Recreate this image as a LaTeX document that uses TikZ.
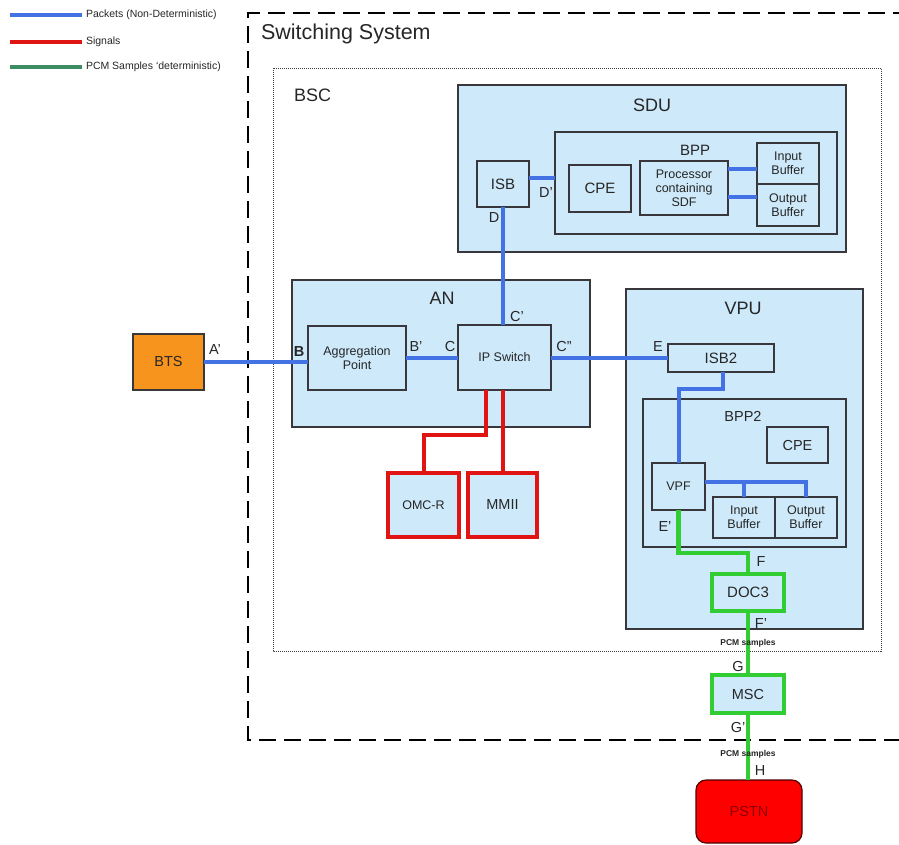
\documentclass[tikz,border=0pt]{standalone}
\usepackage{fontspec}
\setmainfont{Liberation Sans}
\definecolor{lb}{RGB}{205,233,250}
\definecolor{boxline}{RGB}{55,55,60}
\definecolor{pblue}{RGB}{66,114,228}
\definecolor{sred}{RGB}{225,20,20}
\definecolor{pgreen}{RGB}{50,205,50}
\definecolor{lgreen}{RGB}{60,140,100}
\definecolor{btsor}{RGB}{247,148,30}
\definecolor{pstnred}{RGB}{255,0,0}
\begin{document}
\begin{tikzpicture}[x=1pt,y=-1pt,
  every node/.style={inner sep=0pt, outer sep=0pt, text=black!85},
  box/.style={draw=boxline, line width=1.1pt, fill=lb},
  redbox/.style={draw=sred, line width=3.5pt, fill=lb},
  greenbox/.style={draw=pgreen, line width=3.5pt, fill=lb},
  bline/.style={draw=pblue, line width=4pt},
  rline/.style={draw=sred, line width=4pt},
  gline/.style={draw=pgreen, line width=4.5pt},
  fT/.style={font=\fontsize{21.5}{23}\selectfont},
  fL/.style={font=\fontsize{18}{20}\selectfont},
  fM/.style={font=\fontsize{15}{17}\selectfont},
  fP/.style={font=\fontsize{14.5}{16}\selectfont},
  fS/.style={font=\fontsize{12.5}{14}\selectfont, align=center},
  fX/.style={font=\fontsize{8.5}{9}\selectfont\bfseries},
  fLeg/.style={font=\fontsize{10.5}{12}\selectfont, anchor=west},
]
\useasboundingbox (0,0) rectangle (899,844);
\clip (0,0) rectangle (899,844);

% legend
\draw[line width=4pt, pblue] (10,15) -- (82,15);
\draw[line width=4pt, sred] (10,42) -- (82,42);
\draw[line width=4pt, lgreen] (10,67) -- (82,67);
\node[fLeg] (legA) at (86,15) {Packets (Non-Deterministic)};
\node[fLeg] (legB) at (86,42) {Signals};
\node[fLeg] (legC) at (86,67) {PCM Samples ‘deterministic)};

% outer switching system and BSC
\draw[line width=2.6pt, black, dash pattern=on 17pt off 8pt] (910,13) -- (248,13) -- (248,740) -- (910,740);
\draw[line width=1pt, black!75, dash pattern=on 1pt off 1pt] (273,68) rectangle (881,651);
\node[fT, anchor=west] (sstitle) at (261,34) {Switching System};
\node[fL, anchor=west] (bsctitle) at (294,95) {BSC};

% SDU
\node[box, minimum width=388pt, minimum height=167pt] (SDU) at (652,168.5) {};
\node[fL] (SDUt) at (652,105) {SDU};
\node[box, minimum width=282pt, minimum height=102pt] (BPP) at (696,183) {};
\node[fM] (BPPt) at (695,150) {BPP};
\node[box, minimum width=52pt, minimum height=46pt, fM] (ISB) at (503,184) {ISB};
\node[box, minimum width=62pt, minimum height=47pt, fM] (CPE1) at (600,188.5) {CPE};
\node[box, minimum width=88pt, minimum height=54pt, fS] (Proc) at (684,188) {Processor\\containing\\SDF};
\node[box, minimum width=62pt, minimum height=41pt, fS] (InB1) at (788,163.5) {Input\\Buffer};
\node[box, minimum width=62pt, minimum height=42pt, fS] (OutB1) at (788,205) {Output\\Buffer};

% AN
\node[box, minimum width=298pt, minimum height=147pt] (AN) at (441,353.5) {};
\node[fL] (ANt) at (442,298) {AN};
\node[box, minimum width=98pt, minimum height=64pt, fS] (AggP) at (357,358) {Aggregation\\Point};
\node[box, minimum width=93pt, minimum height=65pt, fS] (IPSw) at (504.5,357.5) {IP Switch};

% BTS
\node[draw=boxline, line width=1.1pt, fill=btsor, minimum width=71pt, minimum height=56pt, fP] (BTS) at (168.5,362) {BTS};

% OMC-R, MMII
\node[redbox, minimum width=71pt, minimum height=64pt, fS] (OMCR) at (423.5,505) {OMC-R};
\node[redbox, minimum width=69pt, minimum height=64pt, fP] (MMII) at (502.5,505) {MMII};

% VPU
\node[box, minimum width=237pt, minimum height=340pt] (VPU) at (744.5,459) {};
\node[fL] (VPUt) at (743,308) {VPU};
\node[box, minimum width=106pt, minimum height=28pt, fM] (ISB2) at (721,358) {ISB2};
\node[box, minimum width=203pt, minimum height=148pt] (BPP2) at (744.5,473) {};
\node[fP] (BPP2t) at (743,416) {BPP2};
\node[box, minimum width=61pt, minimum height=36pt, fP] (CPE2) at (797.5,445) {CPE};
\node[box, minimum width=53pt, minimum height=47pt, fS] (VPF) at (678.5,486.5) {VPF};
\node[box, minimum width=62pt, minimum height=41pt, fS] (InB2) at (744,517.5) {Input\\Buffer};
\node[box, minimum width=62pt, minimum height=41pt, fS] (OutB2) at (806,517.5) {Output\\Buffer};

% DOC3, MSC, PSTN
\node[greenbox, minimum width=72pt, minimum height=37pt, fM] (DOC3) at (748,592.5) {DOC3};
\node[greenbox, minimum width=72pt, minimum height=38pt, fP] (MSC) at (748,694) {MSC};
\node[draw=black!70!red, line width=1.2pt, fill=pstnred, rounded corners=10pt, minimum width=106pt, minimum height=63pt, fP, text=black!45!red] (PSTN) at (749,811.5) {PSTN};

% blue connectors
\draw[bline] (BTS.east) -- (BTS.east -| AggP.west);
\draw[bline] (AggP.east) -- (AggP.east -| IPSw.west);
\draw[bline] (IPSw.east) -- (IPSw.east -| ISB2.west);
\draw[bline] (ISB.south) -- (ISB.south |- IPSw.north);
\draw[bline] ([yshift=6pt]ISB.east) -- ([yshift=6pt]ISB.east -| BPP.west);
\draw[bline] ([yshift=-8pt]Proc.north east) -- ([yshift=-8pt]Proc.north east -| InB1.west);
\draw[bline] ([yshift=18pt]Proc.south east) -- ([yshift=18pt]Proc.south east -| OutB1.west);
\draw[bline] ([xshift=2pt]ISB2.south) -- ++(0,17) -| (VPF.north);
\coordinate (vj) at ([yshift=4.5pt]VPF.east);
\draw[bline] (vj) -| (OutB2.north);
\draw[bline] (InB2.north) -- (InB2.north |- vj);

% red connectors
\draw[rline] ([xshift=-18.5pt]IPSw.south) -- ++(0,45) -| (OMCR.north);
\draw[rline] (MMII.north |- IPSw.south) -- (MMII.north);

% green connectors
\draw[gline] (VPF.south) -- ++(0,43) -| (DOC3.north);
\draw[gline] (DOC3.south) -- (MSC.north);
\draw[gline] (MSC.south) -- (MSC.south |- PSTN.north);

% port labels
\node[fP] (lA) at (215,350) {A’};
\node[fP, font=\fontsize{14.5}{16}\selectfont\bfseries] (lB) at (299,352) {B};
\node[fP] (lB2) at (416,347) {B’};
\node[fP] (lC) at (450,347) {C};
\node[fP] (lC1) at (517,317) {C’};
\node[fP] (lC2) at (564,347) {C”};
\node[fP] (lD) at (494,218) {D};
\node[fP] (lD1) at (546,193) {D’};
\node[fP] (lE) at (658,347) {E};
\node[fP] (lE1) at (665,527) {E’};
\node[fP] (lF) at (761,562) {F};
\node[fP] (lF1) at (761,623) {F’};
\node[fP] (lG) at (738,666) {G};
\node[fP] (lG1) at (738,727) {G’};
\node[fP] (lH) at (760,770) {H};
\node[fX] (pcm1) at (748,643) {PCM samples};
\node[fX] (pcm2) at (748,754) {PCM samples};
\end{tikzpicture}
\end{document}
